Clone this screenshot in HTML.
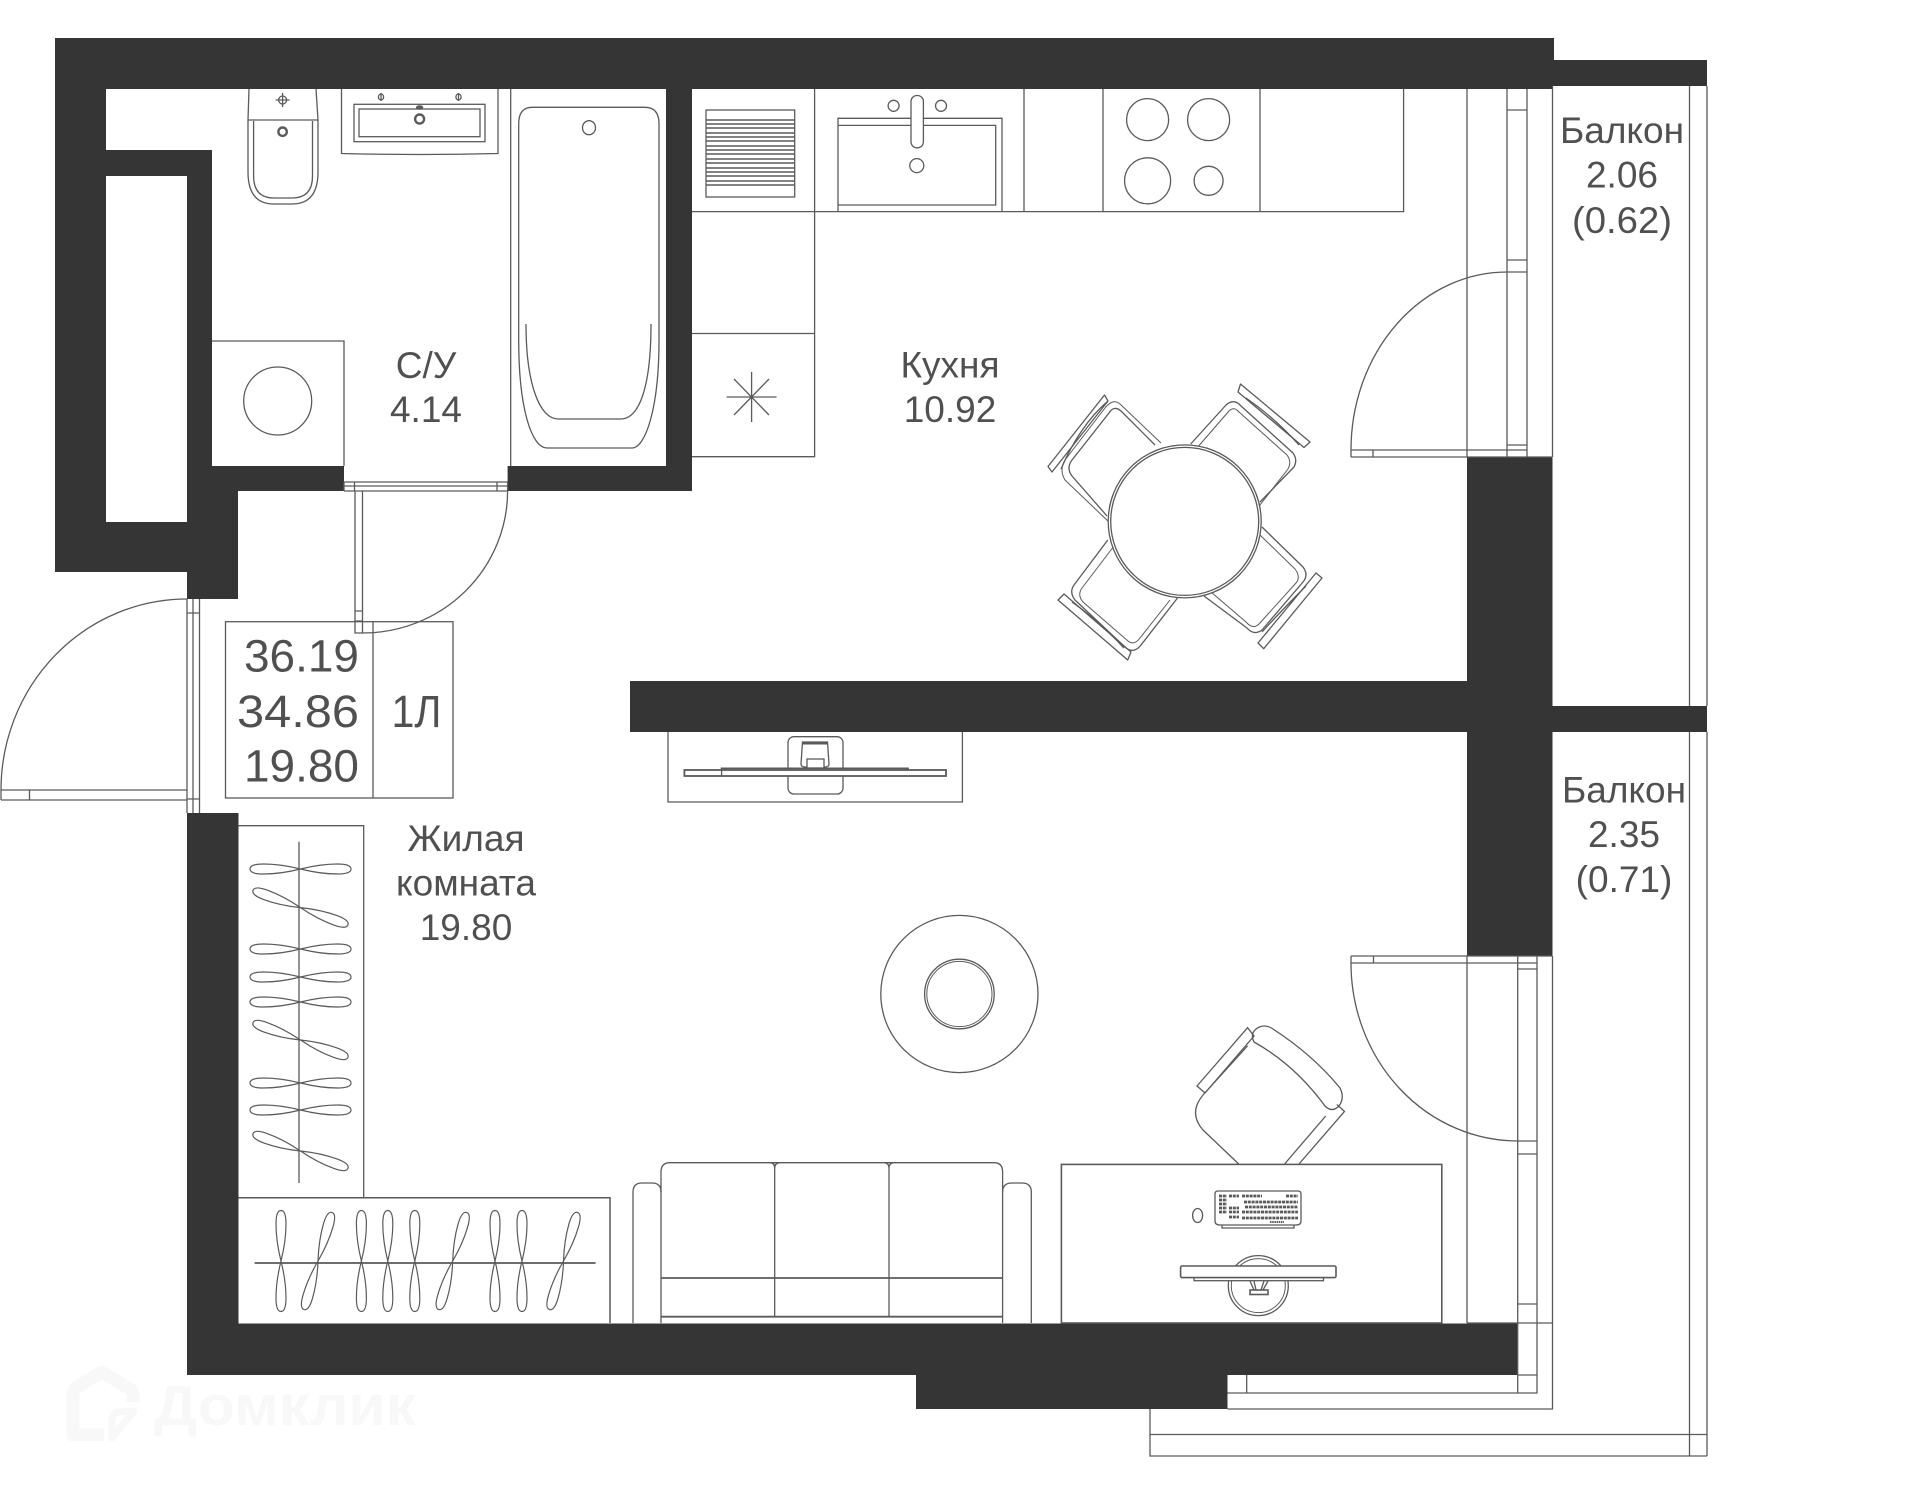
<!DOCTYPE html>
<html><head><meta charset="utf-8"><style>
html,body{margin:0;padding:0;background:#fff;width:1920px;height:1494px;overflow:hidden}
svg{display:block}
text{font-family:"Liberation Sans",sans-serif;fill:#505050;text-anchor:middle}
.l{fill:none;stroke:#5a5a5a;stroke-width:1.3}
.t{fill:none;stroke:#5a5a5a;stroke-width:1}
</style></head><body>
<svg width="1920" height="1494" viewBox="0 0 1920 1494" xmlns="http://www.w3.org/2000/svg">
<defs>
<path id="h" d="M0 0C12 -3 24 -5 37 -5Q50.5 -5 50.5 0Q50.5 5 37 5C24 5 12 3 0 0C-12 -3 -24 -5 -37 -5Q-50.5 -5 -50.5 0Q-50.5 5 -37 5C-24 5 -12 3 0 0Z"/>
</defs>

<!-- watermark -->
<g fill="none" stroke="#f8f8f8" stroke-width="13" stroke-linejoin="round">
<path d="M104 1435H73V1395Q73 1390 77 1387L102 1372L130 1389Q133 1391 133 1396V1402"/>
<path d="M112 1438V1420Q112 1414 118 1412L134 1411Z" stroke-width="7"/>
</g>
<text x="285" y="1425" style="font-size:57px;font-weight:bold;fill:#f8f8f8" textLength="262" lengthAdjust="spacingAndGlyphs">Домклик</text>

<!-- walls -->
<g fill="#353535">
<path d="M55 38H1554V60H1707V86H1552V89H692V491H507.6V466H666V89H106V150H212V466H344V491H238V599H187V572H55Z"/>
<rect x="1467" y="457" width="85.5" height="499"/>
<rect x="630" y="681" width="922" height="51"/>
<rect x="1552" y="706" width="155" height="26"/>
<rect x="187" y="813" width="51.5" height="562"/>
<rect x="187" y="1323.5" width="1331" height="51.5"/>
<rect x="916" y="1375" width="311.5" height="34"/>
</g>
<rect x="106" y="176" width="81" height="346" fill="#fff"/>

<g class="l">
<!-- balcony outlines -->
<path d="M1552.5 86V457M1689.5 86V706M1707 86V706M1689.5 732V1456M1707 732V1456"/>
<path d="M1150 1409V1456H1707M1150 1434.5H1707"/>
<path d="M1227.5 1409H1552.5V956"/>
<path d="M1227.5 1393H1537V956M1517.7 956V1393M1246.7 1375V1393M1517.7 1375H1537M1467 1323H1552.5M1467 956V1323"/>
<path d="M1467 956H1552.5M1351 956H1467M1351 963H1537M1373.5 956V963M1517.7 969H1537M1517.7 1141H1537M1517.7 1154H1537M1517.7 1304H1537"/>
<path d="M1351 956V963A167 178 0 0 0 1517.7 1141"/>
<!-- top window -->
<path d="M1467 89V457M1507 89V457M1527 89V457M1507 110H1527M1507 260H1527M1507 272H1527M1507 445H1527M1351 450H1527M1351 457H1552.5M1351 450V457M1373 450V457"/>
<path d="M1351 450A156 178 0 0 1 1507 272"/>
<!-- bathroom door -->
<path d="M344 482H507.6M344 486H507.6M344 491H507.6M344 482V491M507.6 482V491M354.5 482V491M497 482V491"/>
<path d="M355 491V633H362.5V491M355 611H362.5M355 621H362.5M362.5 633A145 142 0 0 0 507.6 491"/>
<!-- entrance door -->
<path d="M187 599V813M193 599V813M199.5 599V813M187 613H199.5M187 799H199.5"/>
<path d="M1 790H187M1 800H187M1 790V800M29.5 790V800M1 790A186 191 0 0 1 187 599"/>
<!-- info box -->
<rect x="225.5" y="621.7" width="227.5" height="176.3"/>
<path d="M373 621.7V798"/>

<!-- toilet -->
<path d="M249 89L248 120H318L316 89"/>
<path d="M248 120V172Q248 204 274 204H292Q318 204 318 172V120"/>
<path d="M253.6 121V176Q253.6 198 274 198H292Q312.5 198 312.5 176V121"/>
<circle cx="282.6" cy="131.7" r="4.2" stroke-width="2.4"/>
<circle cx="282.6" cy="100" r="4"/><path d="M282.6 93V107M275.6 100H289.6"/>
<!-- sink -->
<path d="M341.5 89V153.5Q420 155.5 498 153.5V89"/>
<rect x="354" y="104.3" width="131" height="37.4"/>
<rect x="359" y="109" width="121" height="27.7"/>
<circle cx="419.6" cy="119" r="4.5" stroke-width="2.4"/>
<ellipse cx="419.6" cy="107.5" rx="3" ry="1.6" fill="#5a5a5a"/>
<ellipse cx="381" cy="97" rx="2.6" ry="3"/><path d="M381 93V101"/>
<ellipse cx="458.5" cy="97" rx="2.6" ry="3"/><path d="M458.5 93V101"/>
<!-- bath -->
<path d="M510.7 89V466"/>
<path d="M518.7 340V124Q518.7 107.3 532 107.3H645Q659 107.3 659 124V340C659 410 645 448 632 448H547C532 448 518.7 410 518.7 340Z"/>
<path d="M526 324C526 385 540 419 558 419H620.5C640 419 651 385 651 324"/>
<ellipse cx="589" cy="127.7" rx="6.5" ry="7"/>
<!-- washer -->
<path d="M212 341H344V466"/>
<circle cx="277.7" cy="401" r="34"/>

<!-- kitchen counters -->
<path d="M692 211.6H1403.6V89M692 333.5H814.6M692 456.7H814.6V89M1024 89V211.6M1103 89V211.6M1260 89V211.6"/>
<path d="M726.6 397H776.6M751.6 372V422M734 379L769 415M769 379L734 415"/>
<rect x="706" y="110" width="88.7" height="87"/>
<path d="M706 120H794.7M706 124H794.7M706 128H794.7M706 133H794.7M706 137H794.7M706 141H794.7M706 146H794.7M706 150H794.7M706 154H794.7M706 159H794.7M706 163H794.7M706 168H794.7M706 172H794.7M706 176H794.7M706 181H794.7M706 185H794.7" stroke-width="1.5"/>
<path d="M838 211.6V118.3H1002V211.6M838 125.4H995.7V205H838"/>
<rect x="911" y="95.5" width="12.4" height="52.3" rx="6" fill="#fff"/>
<circle cx="893.6" cy="105.8" r="5.5"/><circle cx="941" cy="105.8" r="5.5"/>
<circle cx="916.8" cy="165.6" r="7"/>
<ellipse cx="1147.6" cy="119.6" rx="21" ry="21"/><circle cx="1208.6" cy="119.6" r="21"/>
<circle cx="1147.6" cy="180.8" r="23"/><circle cx="1208.6" cy="180.8" r="14.5"/>

<!-- kitchen chairs -->
<g stroke-linejoin="round">
<path d="M1155 445L1121 411Q1114 405 1109 413L1072 460Q1066 468 1072 476L1107 516"/>
<path d="M1161 443L1120 404Q1113 398 1105 408L1065 460Q1059 470 1065 480L1110 523" stroke-width="1"/>
<path d="M1104.5 395L1048 466.5L1052 472L1108 401Z"/>
<path d="M1108 401Q1080 425 1061 469"/>
<path d="M1190.7 444L1226 405Q1234 398 1241 406L1293 453Q1298 460 1294 467L1260 502"/>
<path d="M1196 449L1229 411Q1234 406 1239 412L1287 455Q1292 462 1288 469L1256 510" stroke-width="1"/>
<path d="M1240.5 384L1310 442L1304 447.5L1238 392Z"/>
<path d="M1246 398Q1275 418 1299 445"/>
<path d="M1262 527L1303 567Q1309 575 1303 582L1262 630Q1254 636 1247 628L1204 596"/>
<path d="M1258 533L1295 569Q1301 577 1296 583L1259 624Q1253 630 1246 622L1211 592" stroke-width="1"/>
<path d="M1322 578L1263.7 648.7L1258 643L1316 573Z"/>
<path d="M1306 586Q1282 610 1262 632"/>
<path d="M1107.8 540L1074 585Q1069 592 1075 600L1126 648Q1134 654 1141 645L1177.5 598"/>
<path d="M1114 546L1082 588Q1077 595 1083 602L1128 641Q1134 646 1140 638L1170 600" stroke-width="1"/>
<path d="M1058 600L1127.7 660L1131 652L1064 594Z"/>
<path d="M1072 602Q1098 620 1124 648"/>
</g>
<circle cx="1184.7" cy="521.4" r="76.5" fill="#fff"/>
<circle cx="1184.7" cy="521.4" r="74"/>

<!-- TV top -->
<path d="M668 732V802H962.4V732"/>
<rect x="788" y="736.7" width="55" height="57.3" rx="6"/>
<path d="M802.5 742H827.5L829 764Q829 767 825 767H805Q801 767 801 764Z"/>
<path d="M802 743.5H828" stroke-width="2"/>
<rect x="807" y="759" width="17" height="9" fill="#fff"/>
<path d="M721.6 770V768.4H908V770" stroke-width="1.8"/>
<rect x="684.4" y="770" width="261.6" height="6" fill="#fff" stroke-width="1.8"/>
<path d="M721.6 770V776"/>

<!-- rug -->
<circle cx="959.4" cy="994" r="78.6"/>
<circle cx="959.4" cy="994" r="34.8"/>
<circle cx="959.4" cy="994" r="32.6" class="t"/>

<!-- sofa -->
<path d="M633 1323V1192Q633 1183 642 1183H652Q661 1183 661 1192M1002.6 1192Q1002.6 1183 1012 1183H1022Q1031.3 1183 1031.3 1192V1323"/>
<path d="M661 1323V1172Q661 1162.7 670 1162.7H994Q1002.6 1162.7 1002.6 1172V1323"/>
<path d="M774.7 1168Q774.7 1163 770 1162.7M774.7 1168Q774.7 1163 780 1162.7M889 1168Q889 1163 884 1162.7M889 1168Q889 1163 894 1162.7M774.7 1168V1316M889 1168V1316"/>
<path d="M661 1278H1002.6M661 1316.7H1002.6" stroke-width="1.8"/>

<!-- wardrobes -->
<path d="M238 825.7H363.7V1197.7"/>
<path d="M299 841.7V1183"/>
<path d="M238 1197.7H610V1323" stroke-width="1.5"/>
<path d="M254.6 1263H595.6" stroke-width="1.8"/>
<g stroke-width="1.2">
<use href="#h" transform="translate(300.5 869)"/>
<use href="#h" transform="translate(300.5 907.6) rotate(20)"/>
<use href="#h" transform="translate(300.5 949)"/>
<use href="#h" transform="translate(300.5 977)"/>
<use href="#h" transform="translate(300.5 1002)"/>
<use href="#h" transform="translate(300.5 1040) rotate(20)"/>
<use href="#h" transform="translate(300.5 1083)"/>
<use href="#h" transform="translate(300.5 1110)"/>
<use href="#h" transform="translate(300.5 1151) rotate(20)"/>
<use href="#h" transform="translate(281 1261) rotate(90)"/>
<use href="#h" transform="translate(318 1261) rotate(-74)"/>
<use href="#h" transform="translate(361.4 1261) rotate(90)"/>
<use href="#h" transform="translate(387.8 1261) rotate(90)"/>
<use href="#h" transform="translate(414.8 1261) rotate(90)"/>
<use href="#h" transform="translate(452.7 1261) rotate(-74)"/>
<use href="#h" transform="translate(495 1261) rotate(90)"/>
<use href="#h" transform="translate(522 1261) rotate(90)"/>
<use href="#h" transform="translate(563.5 1261) rotate(-74)"/>
</g>

<!-- office chair -->
<path d="M1238.7 1164L1203 1130Q1188 1113 1203 1095L1247.6 1045.8"/>
<path d="M1247.6 1027.7L1197 1086L1205 1093L1254 1036Z"/>
<path d="M1254 1042Q1250 1034 1256 1029Q1264 1023 1273 1029Q1313 1055 1340 1088Q1345 1098 1339 1106Q1332 1113 1325 1106Q1295 1065 1254 1042Z"/>
<path d="M1325.7 1116L1284.6 1164"/>
<path d="M1336.9 1104.5L1344.5 1111.4L1299 1164"/>
<!-- desk -->
<rect x="1061.4" y="1164.4" width="380.4" height="158.6" fill="#fff" stroke-width="1.6"/>
<!-- keyboard -->
<path d="M1218 1191H1298Q1301 1191 1301 1194V1221Q1301 1225 1296 1225H1220Q1215 1225 1215 1221V1194Q1215 1191 1218 1191Z"/>
<path d="M1222 1225V1228H1294V1225"/>
<g stroke-width="2.8" stroke-dasharray="3 .8" stroke="#5a5a5a">
<path d="M1219 1196H1227M1219 1200H1227M1219 1204H1227M1219 1208H1227M1219 1212H1227"/>
<path d="M1229 1196H1239M1229 1208H1239M1229 1212H1239M1229 1217H1239M1242 1196H1262M1286 1196H1298M1244 1202H1298M1245 1207H1298M1242 1212H1298M1242 1218H1298"/>
</g>
<path d="M1270 1222H1284" stroke-width="2" stroke-dasharray="1.5 .7"/>
<ellipse cx="1197.6" cy="1215.5" rx="5" ry="7"/>
<!-- monitor -->
<circle cx="1258.3" cy="1285.6" r="30"/>
<circle cx="1258.3" cy="1285.6" r="27" class="t"/>
<rect x="1194" y="1272" width="129.5" height="8.7" fill="#fff"/>
<rect x="1180.6" y="1266" width="155.4" height="11.6" rx="1.5" fill="#fff" stroke-width="1.6"/>
<path d="M1250 1281L1254 1290M1268 1281L1263 1290M1254 1281L1256 1290M1264 1281L1261 1290"/>
<rect x="1250" y="1290" width="18" height="4.5" stroke-width="1.6"/>
</g>

<!-- text -->
<g style="font-size:37px">
<text x="426" y="378">С/У</text>
<text x="426" y="422">4.14</text>
<text x="950" y="377.6">Кухня</text>
<text x="950" y="422">10.92</text>
<text x="1622" y="143">Балкон</text>
<text x="1622" y="187.5">2.06</text>
<text x="1622" y="233" textLength="100" lengthAdjust="spacingAndGlyphs">(0.62)</text>
<text x="1624" y="802.5">Балкон</text>
<text x="1624" y="847">2.35</text>
<text x="1624" y="892">(0.71)</text>
<text x="466" y="851">Жилая</text>
<text x="466" y="895.7" textLength="140" lengthAdjust="spacingAndGlyphs">комната</text>
<text x="466" y="940">19.80</text>
</g>
<g style="font-size:45px">
<text x="359" y="671.7" style="text-anchor:end" textLength="115" lengthAdjust="spacingAndGlyphs">36.19</text>
<text x="359" y="727" style="text-anchor:end" textLength="122" lengthAdjust="spacingAndGlyphs">34.86</text>
<text x="359" y="781.7" style="text-anchor:end" textLength="115" lengthAdjust="spacingAndGlyphs">19.80</text>
<text x="416.5" y="727" textLength="50" lengthAdjust="spacingAndGlyphs">1Л</text>
</g>
</svg>
</body></html>
